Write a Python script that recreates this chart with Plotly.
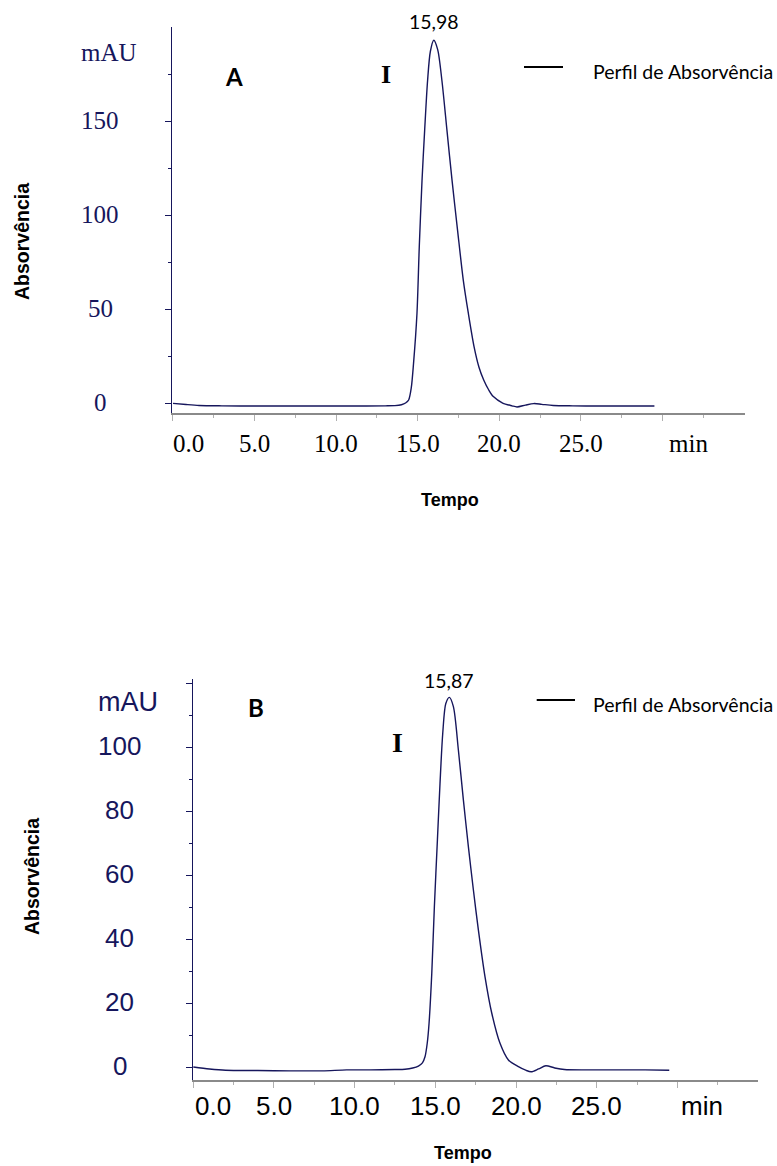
import plotly.graph_objects as go

W, H = 777, 1166

# ---------------- data ----------------
time_a = [0.0, 0.8, 1.6, 3.0, 5.0, 8.0, 11.0, 13.0, 13.6, 14.0, 14.25, 14.44, 14.6, 14.74,
          14.95, 15.09, 15.26, 15.42, 15.6, 15.77, 15.98, 16.22, 16.48, 16.79, 17.1, 17.44,
          17.79, 18.1, 18.45, 18.75, 19.04, 19.35, 19.63, 20.2, 20.78, 21.08, 21.6, 22.1,
          22.6, 23.3, 24.5, 26.0, 28.0, 29.5]
abs_a = [0.3, -0.3, -0.8, -1.0, -1.1, -1.1, -1.1, -1.0, -0.9, -0.4, 0.5, 2.1, 8.5, 21.5,
         48.0, 83.0, 118.6, 145.0, 171.5, 187.0, 193.0, 188.0, 171.5, 145.0, 118.6, 92.0,
         65.6, 48.0, 30.3, 19.5, 12.7, 7.4, 3.9, 0.5, -1.0, -1.6, -0.6, 0.2, -0.2, -0.8,
         -1.0, -1.1, -1.1, -1.1]

time_b = [0.0, 1.0, 2.0, 4.0, 6.0, 8.0, 9.5, 11.0, 12.5, 13.12, 13.6, 13.95, 14.2, 14.36,
          14.5, 14.61, 14.78, 14.94, 15.13, 15.29, 15.46, 15.65, 15.87, 16.12, 16.43, 16.74,
          17.05, 17.36, 17.67, 18.08, 18.5, 19.01, 19.53, 20.15, 20.6, 20.94, 21.4, 21.85,
          22.4, 23.0, 24.5, 26.0, 28.0, 29.5]
abs_b = [0.0, -0.6, -1.0, -1.1, -1.2, -1.2, -0.9, -0.9, -0.8, -0.7, -0.3, 0.3, 1.3, 3.2,
         7.5, 13.6, 29.3, 50.0, 71.0, 88.6, 104.3, 113.6, 115.5, 112.6, 99.0, 83.4,
         68.8, 55.3, 42.8, 28.2, 16.8, 7.4, 2.2, 0.1, -1.0, -1.5, -0.6, 0.4, -0.3,
         -0.8, -0.9, -0.9, -0.9, -1.0]

x_major = [0, 5, 10, 15, 20, 25, 30]
x_minor = [2.5, 7.5, 12.5, 17.5, 22.5, 27.5, 32.5]
x_labels = ["0.0", "5.0", "10.0", "15.0", "20.0", "25.0"]
x_label_vals = [0, 5, 10, 15, 20, 25]

ya_major = [0, 50, 100, 150]
ya_minor = [25, 75, 125, 175]
yb_major = [0, 20, 40, 60, 80, 100, 120]
yb_minor = [10, 30, 50, 70, 90, 110]
yb_labels = [0, 20, 40, 60, 80, 100]

peak_a = (15.98, "15,98")
peak_b = (15.87, "15,87")
legend_text = "Perfil de Absorvência"
y_title = "Absorvência"
x_title = "Tempo"

# ---------------- style ----------------
NAVY = "#16165c"
GRAY = "#8a8a8a"
SERIF = "Liberation Serif"
SANS = "Liberation Sans"
CAL = "Lato"


def px(x):
    return x / W


def py(y):
    return 1 - y / H


fig = go.Figure()
fig.add_trace(go.Scatter(x=time_a, y=abs_a, mode="lines", xaxis="x", yaxis="y",
                         line=dict(color=NAVY, width=1.4, shape="spline", smoothing=0.8),
                         name=legend_text, showlegend=False))
fig.add_trace(go.Scatter(x=time_b, y=abs_b, mode="lines", xaxis="x2", yaxis="y2",
                         line=dict(color=NAVY, width=1.4, shape="spline", smoothing=0.8),
                         name=legend_text, showlegend=False))


def xaxis_cfg(domain, anchor, rng):
    return dict(domain=domain, anchor=anchor, range=rng, showline=True, linecolor=GRAY,
                linewidth=2, ticks="outside", tickvals=x_major, ticklen=6, tickcolor="#b0b0b0",
                tickwidth=1, showticklabels=False, showgrid=False, zeroline=False,
                minor=dict(ticks="outside", tickvals=x_minor, ticklen=3, tickcolor="#b0b0b0",
                           showgrid=False))


def yaxis_cfg(domain, anchor, rng, major, minor):
    return dict(domain=domain, anchor=anchor, range=rng, showline=True, linecolor=NAVY,
                linewidth=1, ticks="outside", tickvals=major, ticklen=6, tickcolor=NAVY,
                tickwidth=1, showticklabels=False, showgrid=False, zeroline=False,
                minor=dict(ticks="outside", tickvals=minor, ticklen=3, tickcolor=NAVY,
                           showgrid=False))


fig.update_layout(
    width=W, height=H, margin=dict(l=0, r=0, t=0, b=0),
    paper_bgcolor="white", plot_bgcolor="white", showlegend=False,
    xaxis=xaxis_cfg([px(172), px(745)], "y", [-0.06, 35.05]),
    yaxis=yaxis_cfg([py(413), py(27)], "x", [-4.8, 200], ya_major, ya_minor),
    xaxis2=xaxis_cfg([px(193), px(758)], "y2", [-0.02, 35.0]),
    yaxis2=yaxis_cfg([py(1080), py(679)], "x2", [-4.06, 121.25], yb_major, yb_minor),
)

ann = []
# --- Panel A tick labels ---
for v in ya_major:
    ann.append(dict(x=px(100), xref="paper", y=v, yref="y", text=str(v), showarrow=False,
                    xanchor="center", yanchor="middle", yshift=1,
                    font=dict(family=SERIF, size=25, color=NAVY)))
ann.append(dict(x=px(109), xref="paper", y=py(53), yref="paper", text="mAU", showarrow=False,
                xanchor="center", yanchor="middle", font=dict(family=SERIF, size=25, color=NAVY)))
for v, t in zip(x_label_vals, x_labels):
    ann.append(dict(x=v, xref="x", y=py(443), yref="paper", text=t, showarrow=False,
                    xanchor="center", yanchor="middle", xshift=16 if v == 0 else 0,
                    font=dict(family=SERIF, size=25, color="black")))
ann.append(dict(x=31.6, xref="x", y=py(443), yref="paper", text="min", showarrow=False,
                xanchor="center", yanchor="middle", font=dict(family=SERIF, size=25, color="black")))

# --- Panel B tick labels ---
for v in yb_labels:
    ann.append(dict(x=px(119.5), xref="paper", y=v, yref="y2", text=str(v), showarrow=False,
                    xanchor="center", yanchor="middle", yshift=1,
                    font=dict(family=SANS, size=26, color=NAVY)))
ann.append(dict(x=px(128), xref="paper", y=py(702), yref="paper", text="mAU", showarrow=False,
                xanchor="center", yanchor="middle", font=dict(family=SANS, size=27, color=NAVY)))
for v, t in zip(x_label_vals, x_labels):
    ann.append(dict(x=v, xref="x2", y=py(1106), yref="paper", text=t, showarrow=False,
                    xanchor="center", yanchor="middle", xshift=20 if v == 0 else 0,
                    font=dict(family=SANS, size=26, color="black")))
ann.append(dict(x=31.5, xref="x2", y=py(1106), yref="paper", text="min", showarrow=False,
                xanchor="center", yanchor="middle", font=dict(family=SANS, size=26, color="black")))

# --- axis titles ---
for cy in (242, 877):
    ann.append(dict(x=px(22 if cy == 242 else 32), xref="paper", y=py(cy), yref="paper",
                    text="<b>" + y_title + "</b>", textangle=-90, showarrow=False,
                    xanchor="center", yanchor="middle",
                    font=dict(family=SANS, size=19.5, color="black")))
ann.append(dict(x=px(450), xref="paper", y=py(500), yref="paper", text="<b>" + x_title + "</b>",
                showarrow=False, xanchor="center", yanchor="middle",
                font=dict(family=SANS, size=18, color="black")))
ann.append(dict(x=px(463), xref="paper", y=py(1153), yref="paper", text="<b>" + x_title + "</b>",
                showarrow=False, xanchor="center", yanchor="middle",
                font=dict(family=SANS, size=18, color="black")))

# --- panel letters, peak markers, peak labels ---
ann.append(dict(x=px(234), xref="paper", y=py(77), yref="paper", text="<b>A</b>", showarrow=False,
                xanchor="center", yanchor="middle", font=dict(family=CAL, size=24, color="black")))
ann.append(dict(x=px(386), xref="paper", y=py(75), yref="paper", text="<b>I</b>", showarrow=False,
                xanchor="center", yanchor="middle", font=dict(family=SERIF, size=26, color="black")))
ann.append(dict(x=peak_a[0], xref="x", y=py(21), yref="paper", text=peak_a[1], showarrow=False,
                xanchor="center", yanchor="middle", font=dict(family=CAL, size=19.5, color="black")))

ann.append(dict(x=px(256), xref="paper", y=py(707), yref="paper", text="<b>B</b>", showarrow=False,
                xanchor="center", yanchor="middle", font=dict(family=CAL, size=24, color="black")))
ann.append(dict(x=px(397), xref="paper", y=py(743), yref="paper", text="<b>I</b>", showarrow=False,
                xanchor="center", yanchor="middle", font=dict(family=SERIF, size=28, color="black")))
ann.append(dict(x=peak_b[0], xref="x2", y=py(680), yref="paper", text=peak_b[1], showarrow=False,
                xanchor="center", yanchor="middle", font=dict(family=CAL, size=19.5, color="black")))

# --- legends ---
shapes = []
for (x0, x1, ly, tx, ty) in [(524, 563, 67, 590.7, 71), (536.7, 575, 700, 590.7, 704.5)]:
    shapes.append(dict(type="line", xref="paper", yref="paper", x0=px(x0), x1=px(x1),
                       y0=py(ly), y1=py(ly), line=dict(color="black", width=2)))
    ann.append(dict(x=px(tx), xref="paper", y=py(ty), yref="paper", text=legend_text,
                    showarrow=False, xanchor="left", yanchor="middle",
                    font=dict(family=CAL, size=19.5, color="black")))

fig.update_layout(annotations=ann, shapes=shapes)
fig.write_html("out.html", config={"displayModeBar": False},
               post_script="document.body.style.margin='0';document.body.style.padding='0';"
                           "document.documentElement.style.overflow='hidden';")
